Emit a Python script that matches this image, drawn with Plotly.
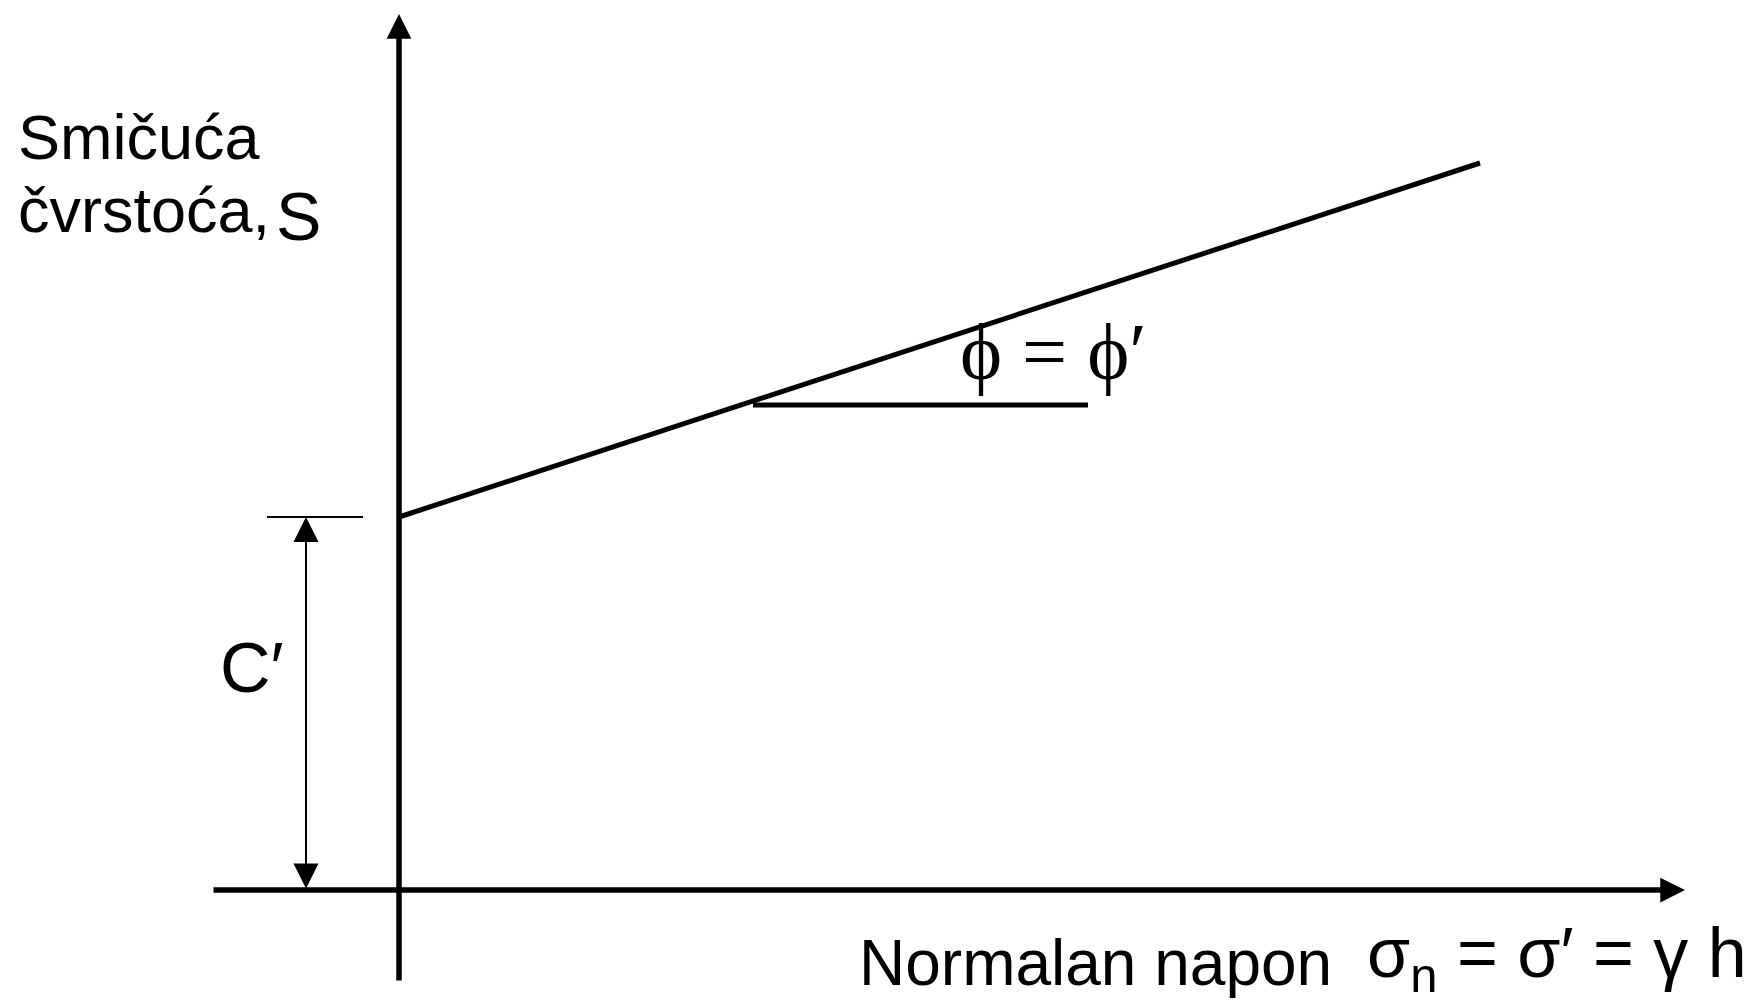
import plotly.graph_objects as go

# Mohr-Coulomb shear strength envelope: S = c' + sigma' * tan(phi')
# Diagram units: normal stress on x, shear strength on y.
c_prime = 3.73                      # intercept on the shear axis
envelope_sigma = [0.0, 10.81]       # normal stress at the ends of the envelope
envelope_tau = [3.73, 7.27]         # shear strength at the ends of the envelope
phi_ref_sigma = [3.54, 6.89]        # horizontal reference line for the angle
phi_ref_tau = [4.85, 4.85]
c_tick_sigma = [-1.32, -0.36]       # short dimension tick at the intercept level
dim_sigma = -0.93                   # position of the c' dimension arrow

# axis extents (tail, tip)
x_axis_sigma = [-1.87, 12.86]
y_axis_tau = [-0.92, 8.76]

W, H = 1754, 1003
x_range = [-3.99, 13.55]
y_range = [-1.13, 8.90]

fig = go.Figure()


def line(xs, ys, width):
    fig.add_trace(go.Scatter(x=xs, y=ys, mode="lines",
                             line=dict(color="black", width=width),
                             hoverinfo="skip"))


# failure envelope, angle reference and the c' tick
line(envelope_sigma, envelope_tau, 5)
line(phi_ref_sigma, phi_ref_tau, 5)
line(c_tick_sigma, [c_prime, c_prime], 2)


def arrow(x0, y0, x1, y1, width, size, both=False):
    a = dict(x=x1, y=y1, ax=x0, ay=y0,
             xref="x", yref="y", axref="x", ayref="y", text="",
             showarrow=True, arrowhead=2, arrowsize=size, arrowwidth=width,
             arrowcolor="black", standoff=0)
    if both:
        a.update(arrowside="end+start", startstandoff=0)
    return a


arrows = [
    arrow(x_axis_sigma[0], 0, x_axis_sigma[1], 0, 5.5, 0.9),
    arrow(0, y_axis_tau[0], 0, y_axis_tau[1], 5.5, 0.9),
    arrow(dim_sigma, 0, dim_sigma, c_prime, 2, 2.5, both=True),
]

sans = "Liberation Sans, Arial, sans-serif"
serif = "Liberation Serif, Times New Roman, serif"


def px_x(p):
    return p / W


def px_y(p):
    return 1 - p / H


texts = [
    dict(x=px_x(16), y=px_y(137), text="Smičuća", xanchor="left", yanchor="middle",
         font=dict(family=sans, size=63, color="black")),
    dict(x=px_x(16), y=px_y(210), text="čvrstoća,", xanchor="left", yanchor="middle",
         font=dict(family=sans, size=63, color="black")),
    dict(x=px_x(274), y=px_y(216), text="S", xanchor="left", yanchor="middle",
         font=dict(family=sans, size=68, color="black")),
    dict(x=px_x(252), y=px_y(668), text="C′", xanchor="center", yanchor="middle",
         font=dict(family=sans, size=70, color="black")),
    dict(x=px_x(1053), y=px_y(352), text="ϕ = ϕ′", xanchor="center", yanchor="middle",
         font=dict(family=serif, size=80, color="black")),
    dict(x=px_x(857), y=px_y(963), text="Normalan napon", xanchor="left", yanchor="middle",
         font=dict(family=sans, size=64, color="black")),
    dict(x=px_x(1365), y=px_y(958), text="σ<sub>n</sub> = σ′ = γ h", xanchor="left",
         yanchor="middle", font=dict(family=sans, size=70, color="black")),
]
for t in texts:
    t.update(xref="paper", yref="paper", showarrow=False)

fig.update_layout(
    width=W, height=H,
    margin=dict(l=0, r=0, t=0, b=0),
    paper_bgcolor="white", plot_bgcolor="white",
    showlegend=False,
    xaxis=dict(range=x_range, visible=False, fixedrange=True),
    yaxis=dict(range=y_range, visible=False, fixedrange=True),
    annotations=arrows + texts,
)

fig.write_html("out.html", config={"displayModeBar": False})
